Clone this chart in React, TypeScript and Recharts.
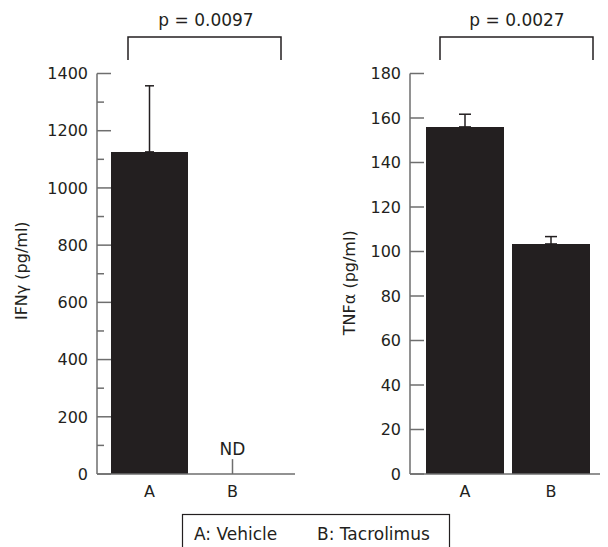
import { BarChart, Bar, XAxis, YAxis, ErrorBar, ReferenceLine } from 'recharts';

const groups = ['A', 'B'];
const ifnValues = [1126, 0];
const ifnErrors = [231, null];
const ndGroup = 'B';
const ndMarkHeight = 52;
const tnfValues = [156, 103.4];
const tnfErrors = [5.7, 3.3];
const ifnTicks = [0, 100, 200, 300, 400, 500, 600, 700, 800, 900, 1000, 1100, 1200, 1300, 1400];
const tnfTicks = [0, 20, 40, 60, 80, 100, 120, 140, 160, 180];
const pLabels = ['p = 0.0097', 'p = 0.0027'];
const legendItems = ['A: Vehicle', 'B: Tacrolimus'];

const INK = '#231f20';
const AXIS = '#6e6e6e';
const FONT = '"DejaVu Sans", sans-serif';
const FS = 16;
const FS_NOTE = 17;

const ifnData = groups.map((g, i) => ({
  group: g,
  value: ifnValues[i],
  err: ifnErrors[i] == null ? null : [0, ifnErrors[i]],
}));
const tnfData = groups.map((g, i) => ({ group: g, value: tnfValues[i], err: [0, tnfErrors[i]] }));

// ticks drawn inward from the axis line, labels only on the major steps
const makeTick = (major: number) => (props: any) => {
  const { x, y, payload } = props;
  const isMajor = payload.value % major === 0;
  return (
    <g>
      <line x1={x} x2={x + (isMajor ? 14 : 7)} y1={y} y2={y} stroke={AXIS} strokeWidth={1.5} />
      {isMajor && (
        <text x={x - 9} y={y} dy="0.36em" textAnchor="end" fill={INK} fontSize={FS} fontFamily={FONT}>
          {payload.value}
        </text>
      )}
    </g>
  );
};

const makeAxisLabel = (text: string, dist: number, shift: number) => (props: any) => {
  const vb = props.viewBox;
  const x = vb.x + vb.width - dist;
  const y = vb.y + vb.height / 2 + shift;
  return (
    <text x={x} y={y} transform={`rotate(-90, ${x}, ${y})`} textAnchor="middle" fill={INK} fontSize={FS} fontFamily={FONT}>
      {text}
    </text>
  );
};

const NdText = (props: any) => {
  const vb = props.viewBox || {};
  const cx = vb.x + (vb.width || 0) / 2;
  return (
    <text x={cx} y={vb.y - 4} textAnchor="middle" fill={INK} fontSize={FS_NOTE} fontFamily={FONT}>
      ND
    </text>
  );
};

export default function App() {
  return (
    <div style={{ position: 'absolute', left: 0, top: 0, width: 608, height: 547, background: '#fff', fontFamily: FONT }}>
      <div style={{ position: 'absolute', left: 0, top: 0 }}>
        <BarChart width={300} height={547} data={ifnData} margin={{ top: 73.5, right: 5, bottom: 43, left: 37 }}>
          <XAxis
            dataKey="group"
            height={30}
            padding={{ left: 11, right: 21 }}
            axisLine={{ stroke: AXIS, strokeWidth: 1.5 }}
            tickLine={false}
            tickSize={0}
            tickMargin={12}
            tick={{ fill: INK, fontSize: FS, fontFamily: FONT }}
          />
          <YAxis
            width={60}
            domain={[0, 1400]}
            ticks={ifnTicks}
            interval={0}
            axisLine={{ stroke: AXIS, strokeWidth: 1.5 }}
            tickLine={false}
            tickSize={0}
            tickMargin={0}
            tick={makeTick(200)}
            label={{ content: makeAxisLabel('IFNγ (pg/ml)', 70, -3) }}
          />
          <Bar dataKey="value" fill={INK} barSize={77} isAnimationActive={false}>
            <ErrorBar dataKey="err" width={4.5} stroke={INK} strokeWidth={1.5} />
          </Bar>
          <ReferenceLine
            segment={[{ x: ndGroup, y: 0 }, { x: ndGroup, y: ndMarkHeight }]}
            stroke={AXIS}
            strokeWidth={1.5}
            label={{ content: NdText }}
          />
        </BarChart>
      </div>
      <div style={{ position: 'absolute', left: 300, top: 0 }}>
        <BarChart width={308} height={547} data={tnfData} margin={{ top: 73.5, right: 8, bottom: 43, left: 50 }}>
          <XAxis
            dataKey="group"
            height={30}
            padding={{ left: 12, right: 6 }}
            axisLine={{ stroke: AXIS, strokeWidth: 1.5 }}
            tickLine={false}
            tickSize={0}
            tickMargin={12}
            tick={{ fill: INK, fontSize: FS, fontFamily: FONT }}
          />
          <YAxis
            width={60}
            domain={[0, 180]}
            ticks={tnfTicks}
            interval={0}
            axisLine={{ stroke: AXIS, strokeWidth: 1.5 }}
            tickLine={false}
            tickSize={0}
            tickMargin={0}
            tick={makeTick(20)}
            label={{ content: makeAxisLabel('TNFα (pg/ml)', 55, 9) }}
          />
          <Bar dataKey="value" fill={INK} barSize={78} isAnimationActive={false}>
            <ErrorBar dataKey="err" width={6} stroke={INK} strokeWidth={1.5} />
          </Bar>
        </BarChart>
      </div>
      <svg width={608} height={547} style={{ position: 'absolute', left: 0, top: 0, pointerEvents: 'none' }}>
        <path d="M128,60 V37 H281 V60" fill="none" stroke={INK} strokeWidth={1.5} />
        <path d="M440,60 V37 H593 V60" fill="none" stroke={INK} strokeWidth={1.5} />
        <text x={206} y={26} textAnchor="middle" fill={INK} fontSize={FS_NOTE} fontFamily={FONT}>{pLabels[0]}</text>
        <text x={517} y={26} textAnchor="middle" fill={INK} fontSize={FS_NOTE} fontFamily={FONT}>{pLabels[1]}</text>
        <rect x={182.5} y={514.5} width={267} height={45} fill="none" stroke={INK} strokeWidth={1.2} />
        <text x={194} y={539.5} fill={INK} fontSize={FS_NOTE} fontFamily={FONT}>{legendItems[0]}</text>
        <text x={317} y={539.5} fill={INK} fontSize={FS_NOTE} fontFamily={FONT}>{legendItems[1]}</text>
      </svg>
    </div>
  );
}
